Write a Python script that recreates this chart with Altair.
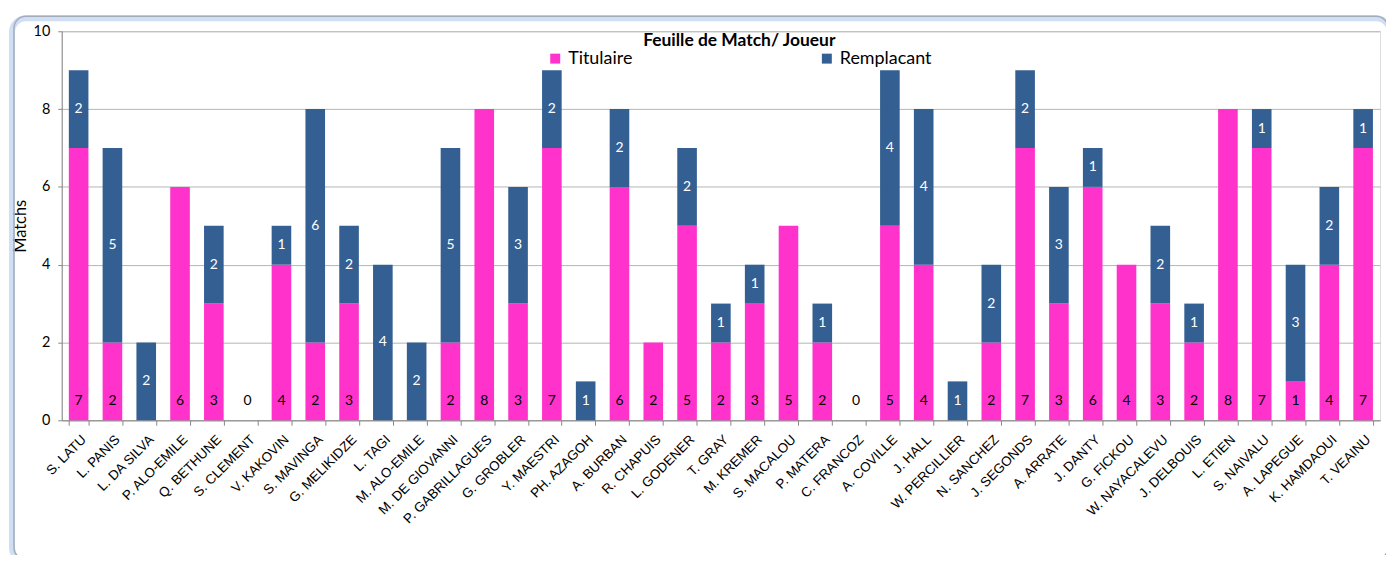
import altair as alt
import pandas as pd

players = ["S. LATU", "L.  PANIS", "L. DA SILVA", "P. ALO-EMILE", "Q. BETHUNE", "S. CLEMENT",
           "V. KAKOVIN", "S. MAVINGA", "G. MELIKIDZE", "L. TAGI", "M. ALO-EMILE", "M. DE GIOVANNI",
           "P. GABRILLAGUES", "G. GROBLER", "Y.  MAESTRI", "PH. AZAGOH", "A.  BURBAN", "R. CHAPUIS",
           "L. GODENER", "T.  GRAY", "M. KREMER", "S. MACALOU", "P. MATERA", "C. FRANCOZ",
           "A. COVILLE", "J. HALL", "W. PERCILLIER", "N. SANCHEZ", "J. SEGONDS", "A. ARRATE",
           "J. DANTY", "G.  FICKOU", "W. NAYACALEVU", "J. DELBOUIS", "L. ETIEN", "S. NAIVALU",
           "A. LAPEGUE", "K. HAMDAOUI", "T. VEAINU"]
titulaire = [7, 2, 0, 6, 3, 0, 4, 2, 3, 0, 0, 2, 8, 3, 7, 0, 6, 2, 5, 2, 3, 5, 2, 0,
             5, 4, 0, 2, 7, 3, 6, 4, 3, 2, 8, 7, 1, 4, 7]
remplacant = [2, 5, 2, 0, 2, 0, 1, 6, 2, 4, 2, 5, 0, 3, 2, 1, 2, 0, 2, 1, 1, 0, 1, 0,
              4, 4, 1, 2, 2, 3, 1, 0, 2, 1, 0, 1, 3, 2, 1]
series = ["Titulaire", "Remplacant"]
colors = ["#FF33CC", "#335F92"]

rows = []
for p, t, r in zip(players, titulaire, remplacant):
    rows.append({"player": p, "serie": "Titulaire", "value": t, "ord": 0, "tit": t, "rem": r})
    rows.append({"player": p, "serie": "Remplacant", "value": r, "ord": 1, "tit": t, "rem": r})
df = pd.DataFrame(rows)

W, H = 1325, 391
xenc = alt.X("player:N", sort=players, title=None,
             scale=alt.Scale(paddingInner=0.42, paddingOuter=0.21),
             axis=alt.Axis(labelAngle=-45, labelAlign="right", labelBaseline="top",
                           labelFont="Liberation Sans", labelFontSize=13.5, labelColor="#000",
                           labelPadding=7, tickBand="extent", tickColor="#888", tickSize=5,
                           domainColor="#888", grid=False, labelOverlap=False))

bars = alt.Chart(df).mark_bar().encode(
    x=xenc,
    y=alt.Y("value:Q", stack="zero", title="Matchs",
            scale=alt.Scale(domain=[0, 10], nice=False),
            axis=alt.Axis(values=list(range(0, 11)),
                          labelExpr="datum.value % 2 == 0 ? datum.label : ''",
                          gridOpacity={"condition": {"test": "datum.value % 2 == 1", "value": 0}, "value": 1},
                          gridColor="#b4b4b4", domainColor="#888", tickColor="#888", tickSize=4,
                          labelFont="Lato", labelFontSize=14.5, labelColor="#000", labelPadding=8,
                          titleFont="Lato", titleFontSize=16.5, titleFontWeight="normal",
                          titleColor="#000", titlePadding=5)),
    color=alt.Color("serie:N", sort=series,
                    scale=alt.Scale(domain=series, range=colors),
                    legend=alt.Legend(title="Feuille de Match/ Joueur", orient="none",
                                      legendX=487, legendY=1, direction="horizontal",
                                      titleAnchor="middle", titleFont="Lato", titleFontSize=17.5,
                                      titleFontWeight="bold", titleColor="#000", titleLimit=600,
                                      labelFont="Lato", labelFontSize=18, labelColor="#000",
                                      symbolType="square", symbolSize=100, symbolStrokeWidth=0,
                                      columnPadding=186, labelLimit=300, titlePadding=0,
                                      labelOffset=4)),
    order=alt.Order("ord:Q"),
)

tit_text = alt.Chart(df).transform_filter(
    "datum.serie == 'Titulaire' && (datum.tit > 0 || datum.rem == 0)"
).transform_calculate(ypos="0.5").mark_text(
    font="Lato", fontSize=14, color="#000", baseline="middle"
).encode(x=alt.X("player:N", sort=players), y="ypos:Q", text="value:Q")

rem_text = alt.Chart(df).transform_filter(
    "datum.serie == 'Remplacant' && datum.rem > 0"
).transform_calculate(ypos="datum.tit + datum.rem / 2").mark_text(
    font="Lato", fontSize=14, color="#fff", baseline="middle"
).encode(x=alt.X("player:N", sort=players), y="ypos:Q", text="value:Q")

frame = pd.DataFrame({"a": [0]})
glow = alt.Chart(frame).mark_rect(
    cornerRadius=14, fill=None, stroke="#a9c4ec", strokeWidth=6, opacity=0.55
).encode(x=alt.value(-50), x2=alt.value(W + 10), y=alt.value(-13), y2=alt.value(H + 142))
border = alt.Chart(frame).mark_rect(
    cornerRadius=12, fill=None, stroke="#a4acb8", strokeWidth=1.5
).encode(x=alt.value(-48), x2=alt.value(W + 8), y=alt.value(-15), y2=alt.value(H + 140))

chart = alt.layer(glow, border, bars, tit_text, rem_text).properties(
    width=W, height=H,
    autosize=alt.AutoSizeParams(type="none"),
    padding={"left": 54, "top": 22, "right": 6, "bottom": 134},
).configure_view(stroke=None).configure(background="white")

chart.save("out.html", embed_options={"renderer": "svg", "actions": False})
